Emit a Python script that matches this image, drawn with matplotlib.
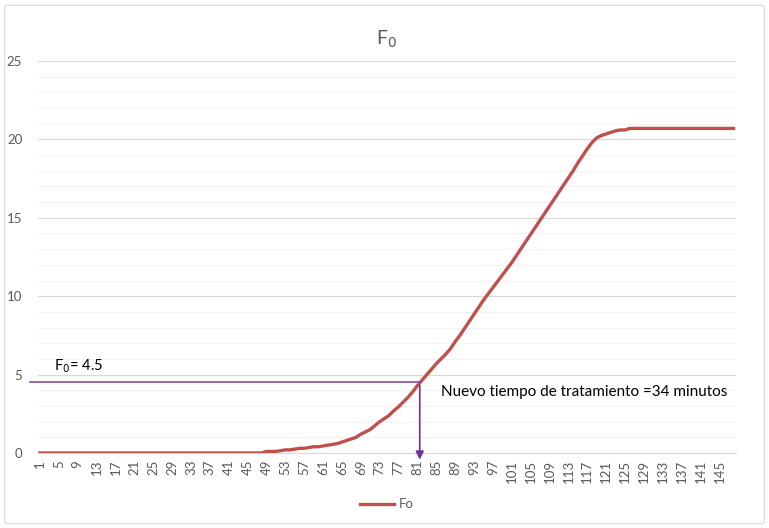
import matplotlib.pyplot as plt
from matplotlib.patches import FancyBboxPatch

plt.rcParams['font.family'] = ['Lato', 'DejaVu Sans']

# time steps (categories 1..148)
minutes = list(range(1, 149))

# F0 accumulated lethality
fo = ([0.0] * 48 +
      [0.1, 0.1, 0.1, 0.15, 0.2, 0.2, 0.25, 0.3, 0.3, 0.35,
       0.4, 0.4, 0.45, 0.5, 0.55, 0.6, 0.7, 0.8, 0.9, 1.0,
       1.2, 1.35, 1.5, 1.75, 2.0, 2.2, 2.4, 2.7, 2.95, 3.25,
       3.55, 3.9, 4.3, 4.65, 5.0, 5.35, 5.7, 6.0, 6.3, 6.65,
       7.1, 7.5, 7.95, 8.4, 8.85, 9.3, 9.75, 10.15, 10.55, 10.95,
       11.35, 11.75, 12.15, 12.6, 13.05, 13.5, 13.95, 14.4, 14.85, 15.3,
       15.75, 16.2, 16.65, 17.1, 17.55, 18.0, 18.5, 18.95, 19.4, 19.8,
       20.1, 20.25, 20.35, 20.45, 20.55, 20.6, 20.6] +
      [20.7] * 23)

tick_labels = [str(m) for m in minutes[::4]]
f0_target = 4.5
cross_minute = 81.5

fig = plt.figure(figsize=(7.69, 5.28), dpi=100)
fig.patches.append(FancyBboxPatch((0.006, 0.008), 0.988, 0.982, boxstyle='round,pad=0,rounding_size=0.004',
                                  transform=fig.transFigure, fill=False, edgecolor='#D9D9D9', linewidth=0.8))
ax = fig.add_axes([0.0488, 0.142, 0.9082, 0.7425])

ax.plot(minutes, fo, color='#C0504D', linewidth=2.4, label='Fo', zorder=3)

ax.set_xlim(0.5, 148.5)
ax.set_ylim(0, 25)
ax.set_yticks(range(0, 26, 5))
ax.set_yticks(range(0, 26, 1), minor=True)
ax.set_xticks(minutes[::4])
ax.set_xticklabels(tick_labels, rotation=90)
ax.tick_params(axis='both', length=0, labelsize=9.5, colors='#595959')
ax.tick_params(axis='y', which='minor', length=0)
ax.tick_params(axis='y', pad=11)
ax.tick_params(axis='x', pad=5)

ax.grid(axis='y', which='major', color='#D9D9D9', linewidth=0.8)
ax.grid(axis='y', which='minor', color='#F2F2F2', linewidth=0.8)
ax.set_axisbelow(True)
for side in ['top', 'right', 'left']:
    ax.spines[side].set_visible(False)
ax.spines['bottom'].set_color('#D9D9D9')

ax.set_title('F$_0$', fontsize=14, color='#595959', pad=12)

# annotation: F0 target line and arrow
ax.plot([-1.2, cross_minute], [f0_target, f0_target], color='#7F4FB0', linewidth=1.2, clip_on=False, zorder=4)
ax.annotate('', xy=(cross_minute, -0.6), xytext=(cross_minute, f0_target),
            arrowprops=dict(arrowstyle='-|>', color='#7030A0', lw=1.2, mutation_scale=12),
            annotation_clip=False, zorder=4)
ax.text(4, 5.55, 'F$_0$= 4.5', fontsize=10.5, color='#000000', va='center')
ax.text(86.0, 3.9, 'Nuevo tiempo de tratamiento =34 minutos', fontsize=11, color='#000000', va='center')

ax.legend(loc='upper center', bbox_to_anchor=(0.5, -0.085), frameon=False, fontsize=9.5,
          labelcolor='#595959', handlelength=2.6, handletextpad=0.3)

fig.savefig('out.png', dpi=100)
